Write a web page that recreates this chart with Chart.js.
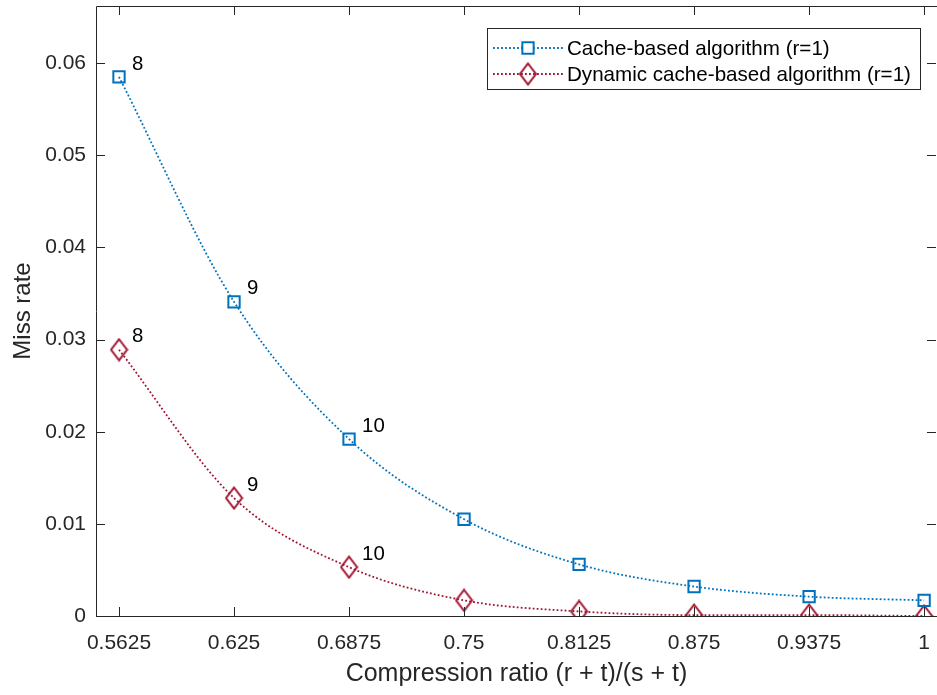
<!DOCTYPE html>
<html>
<head>
<meta charset="utf-8">
<script src="https://cdn.jsdelivr.net/npm/chart.js"></script>
<style>
  html, body { margin: 0; padding: 0; background: #fff; }
  canvas { display: block; }
</style>
</head>
<body>
<canvas id="myChart" width="937" height="695"></canvas>
<script>
// data
const xValues = [0.5625, 0.625, 0.6875, 0.75, 0.8125, 0.875, 0.9375, 1];
const cacheMiss = [0.0585, 0.0341, 0.0192, 0.0105, 0.0056, 0.0032, 0.0021, 0.0017];
const dynamicMiss = [0.0289, 0.0128, 0.0053, 0.0017, 0.0005, 0.0001, 0.0001, 0.0000];
const pointLabels = ['8', '9', '10'];
const xTickLabels = ['0.5625', '0.625', '0.6875', '0.75', '0.8125', '0.875', '0.9375', '1'];
const yTickValues = [0, 0.01, 0.02, 0.03, 0.04, 0.05, 0.06];
const yTickLabels = ['0', '0.01', '0.02', '0.03', '0.04', '0.05', '0.06'];
const seriesNames = ['Cache-based algorithm (r=1)', 'Dynamic cache-based algorithm (r=1)'];

const BLUE = '#0072BD';
const RED = '#A2142F';
const AXIS = '#262626';
const FONT = "'Liberation Sans', Arial, Helvetica, sans-serif";

// tall diamond marker like matlab's 'd'
function diamondMarker(color) {
    const c = document.createElement('canvas');
    c.width = 19; c.height = 24;
    const g = c.getContext('2d');
    g.strokeStyle = color;
    g.lineWidth = 2;
    g.beginPath();
    g.moveTo(9.5, 1.5);
    g.lineTo(17.5, 12);
    g.lineTo(9.5, 22.5);
    g.lineTo(1.5, 12);
    g.closePath();
    g.stroke();
    return c;
}
const diamond = diamondMarker(RED);

function toPoints(ys) {
    return xValues.map((x, i) => ({x: x, y: ys[i]}));
}

function noPadding(s) {
    s.paddingLeft = 0; s.paddingRight = 0;
    s.paddingTop = 0; s.paddingBottom = 0;
}

// box, inward ticks, point numbers and legend
const matlabLook = {
    id: 'matlabLook',
    afterDatasetsDraw(chart) {
        const ctx = chart.ctx;
        ctx.save();
        ctx.fillStyle = '#000';
        ctx.font = '20.4px ' + FONT;
        ctx.textAlign = 'left';
        ctx.textBaseline = 'middle';
        chart.data.datasets.forEach((ds, di) => {
            const meta = chart.getDatasetMeta(di);
            pointLabels.forEach((lbl, i) => {
                const p = meta.data[i];
                ctx.fillText(lbl, p.x + 13, p.y - 13);
            });
        });
        ctx.restore();
    },
    afterDraw(chart) {
        const ctx = chart.ctx;
        const a = chart.chartArea;
        const xs = chart.scales.x, ys = chart.scales.y;
        ctx.save();
        ctx.strokeStyle = AXIS;
        ctx.lineWidth = 1;
        ctx.beginPath();
        ctx.rect(a.left + 0.5, a.top + 0.5, a.right - a.left, a.bottom - a.top);
        xs.ticks.forEach(t => {
            const px = Math.round(xs.getPixelForValue(t.value)) + 0.5;
            ctx.moveTo(px, a.bottom); ctx.lineTo(px, a.bottom - 9);
            ctx.moveTo(px, a.top); ctx.lineTo(px, a.top + 9);
        });
        ys.ticks.forEach(t => {
            const py = Math.round(ys.getPixelForValue(t.value)) + 0.5;
            ctx.moveTo(a.left, py); ctx.lineTo(a.left + 9, py);
            ctx.moveTo(a.right - 1, py); ctx.lineTo(a.right - 10, py);
        });
        ctx.stroke();

        // legend
        const lx = 487, ly = 28, lw = 433, lh = 61;
        ctx.fillStyle = '#fff';
        ctx.fillRect(lx, ly, lw, lh);
        ctx.strokeRect(lx + 0.5, ly + 0.5, lw, lh);
        const rows = [48, 74];
        chart.data.datasets.forEach((ds, di) => {
            const y = rows[di];
            ctx.save();
            ctx.strokeStyle = ds.borderColor;
            ctx.lineWidth = ds.borderWidth;
            ctx.setLineDash(ds.borderDash);
            ctx.beginPath();
            ctx.moveTo(493, y); ctx.lineTo(563, y);
            ctx.stroke();
            ctx.restore();
            ctx.save();
            ctx.strokeStyle = ds.borderColor;
            ctx.lineWidth = ds.pointBorderWidth;
            Chart.helpers.drawPoint(ctx, {
                pointStyle: ds.pointStyle,
                radius: ds.pointRadius,
                borderWidth: ds.pointBorderWidth
            }, 528, y);
            ctx.restore();
            ctx.fillStyle = '#000';
            ctx.font = '20.6px ' + FONT;
            ctx.textAlign = 'left';
            ctx.textBaseline = 'middle';
            ctx.fillText(ds.label, 567, y + 1);
        });
        ctx.restore();
    }
};

const ctx = document.getElementById('myChart').getContext('2d');
const missChart = new Chart(ctx, {
    type: 'line',
    data: {
        datasets: [{
            label: seriesNames[0],
            data: toPoints(cacheMiss),
            borderColor: BLUE,
            borderWidth: 1.8,
            borderDash: [1.8, 2.2],
            cubicInterpolationMode: 'monotone',
            pointStyle: 'rect',
            pointRadius: 8,
            pointBorderWidth: 2,
            pointBorderColor: BLUE,
            pointBackgroundColor: 'rgba(0,0,0,0)',
            fill: false
        }, {
            label: seriesNames[1],
            data: toPoints(dynamicMiss),
            borderColor: RED,
            borderWidth: 1.8,
            borderDash: [1.8, 2.2],
            cubicInterpolationMode: 'monotone',
            pointStyle: diamond,
            pointRadius: 9,
            pointBorderWidth: 2,
            pointBorderColor: RED,
            pointBackgroundColor: 'rgba(0,0,0,0)',
            fill: false
        }]
    },
    options: {
        responsive: false,
        animation: false,
        events: [],
        layout: {
            autoPadding: false,
            padding: {top: 6, right: 0, left: 0, bottom: 0}
        },
        plugins: {
            legend: {display: false},
            tooltip: {enabled: false}
        },
        scales: {
            x: {
                type: 'linear',
                min: 0.55,
                max: 1.007,
                grid: {display: false, drawTicks: false},
                border: {display: false},
                afterBuildTicks: s => { s.ticks = xValues.map(v => ({value: v})); },
                afterFit: s => { s.height = 79; noPadding(s); },
                ticks: {
                    autoSkip: false,
                    maxRotation: 0,
                    padding: 15,
                    color: AXIS,
                    font: {family: FONT, size: 21},
                    callback: (v, i) => xTickLabels[i]
                },
                title: {
                    display: true,
                    text: 'Compression ratio (r + t)/(s + t)',
                    color: AXIS,
                    font: {family: FONT, size: 25},
                    padding: {top: 0, bottom: 6}
                }
            },
            y: {
                type: 'linear',
                min: 0,
                max: 0.0662,
                grid: {display: false, drawTicks: false},
                border: {display: false},
                afterBuildTicks: s => { s.ticks = yTickValues.map(v => ({value: v})); },
                afterFit: s => { s.width = 96; noPadding(s); },
                ticks: {
                    padding: 10,
                    color: AXIS,
                    font: {family: FONT, size: 21},
                    callback: (v, i) => yTickLabels[i]
                },
                title: {
                    display: true,
                    text: 'Miss rate',
                    color: AXIS,
                    font: {family: FONT, size: 24},
                    padding: {top: 9, bottom: 0}
                }
            }
        }
    },
    plugins: [matlabLook]
});
</script>
</body>
</html>
